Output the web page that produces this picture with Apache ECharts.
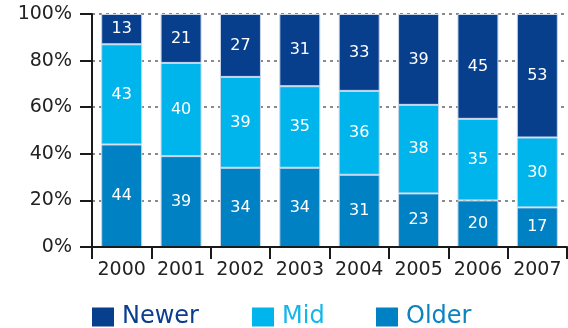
<!DOCTYPE html>
<html>
<head>
<meta charset="utf-8">
<style>
  html, body { margin: 0; padding: 0; background: #ffffff; }
  #chart { width: 568px; height: 328px; }
</style>
<script src="https://cdn.jsdelivr.net/npm/echarts@6/dist/echarts.min.js"></script>
</head>
<body>
<div id="chart"></div>
<script>
// Share of the fleet by age band, per year (percent, each year sums to 100)
const years = ['2000', '2001', '2002', '2003', '2004', '2005', '2006', '2007'];
const older = [44, 39, 34, 34, 31, 23, 20, 17];
const mid   = [43, 40, 39, 35, 36, 38, 35, 30];
const newer = [13, 21, 27, 31, 33, 39, 45, 53];
const yTicks = [0, 20, 40, 60, 80, 100];

const FONT = '"DejaVu Sans", sans-serif';
const colors = { Newer: '#073f8d', Mid: '#00b5eb', Older: '#0081c4' };
const textColors = { Newer: '#0b3f8e', Mid: '#14b6ea', Older: '#0b82c4' };

function barSeries(name, values) {
  return {
    name: name,
    type: 'bar',
    stack: 'share',
    data: values,
    barWidth: 41,
    itemStyle: { color: colors[name], borderColor: '#c9d6ea', borderWidth: 1 },
    label: {
      show: true,
      position: 'inside',
      color: '#ffffff',
      fontFamily: FONT,
      fontSize: 16
    },
    z: 4
  };
}

function legendAt(name, left) {
  return {
    data: [name],
    left: left,
    top: 305,
    padding: 0,
    itemWidth: 22,
    itemHeight: 19,
    itemGap: 0,
    icon: 'rect',
    itemStyle: { borderWidth: 0 },
    selectedMode: false,
    textStyle: { color: textColors[name], fontFamily: FONT, fontSize: 24, lineHeight: 19, padding: [3, 0, 0, 3] }
  };
}

const chart = echarts.init(document.getElementById('chart'), null, { renderer: 'canvas' });
chart.setOption({
  animation: false,
  backgroundColor: '#ffffff',
  grid: { left: 92, right: 1, top: 14, bottom: 81 },
  legend: [legendAt('Newer', 92), legendAt('Mid', 252), legendAt('Older', 376)],
  xAxis: {
    type: 'category',
    data: years,
    boundaryGap: true,
    axisLine: { show: true, lineStyle: { color: '#1a1a1a', width: 2 } },
    axisTick: { show: true, interval: 0, alignWithLabel: false, length: 12, lineStyle: { color: '#1a1a1a', width: 2 } },
    axisLabel: { interval: 0, color: '#222222', fontFamily: FONT, fontSize: 19, margin: 14 },
    splitLine: { show: false },
    z: 5
  },
  yAxis: {
    type: 'value',
    min: yTicks[0],
    max: yTicks[yTicks.length - 1],
    interval: 20,
    axisLine: { show: true, lineStyle: { color: '#1a1a1a', width: 2 } },
    axisTick: { show: true, length: 12, lineStyle: { color: '#1a1a1a', width: 2 } },
    axisLabel: { color: '#222222', fontFamily: FONT, fontSize: 19, margin: 20, formatter: '{value}%' },
    splitLine: { show: true, lineStyle: { color: '#8a8a8a', type: [3, 4], width: 2 } },
    z: 1
  },
  series: [
    barSeries('Older', older),
    barSeries('Mid', mid),
    barSeries('Newer', newer)
  ]
});
</script>
</body>
</html>
